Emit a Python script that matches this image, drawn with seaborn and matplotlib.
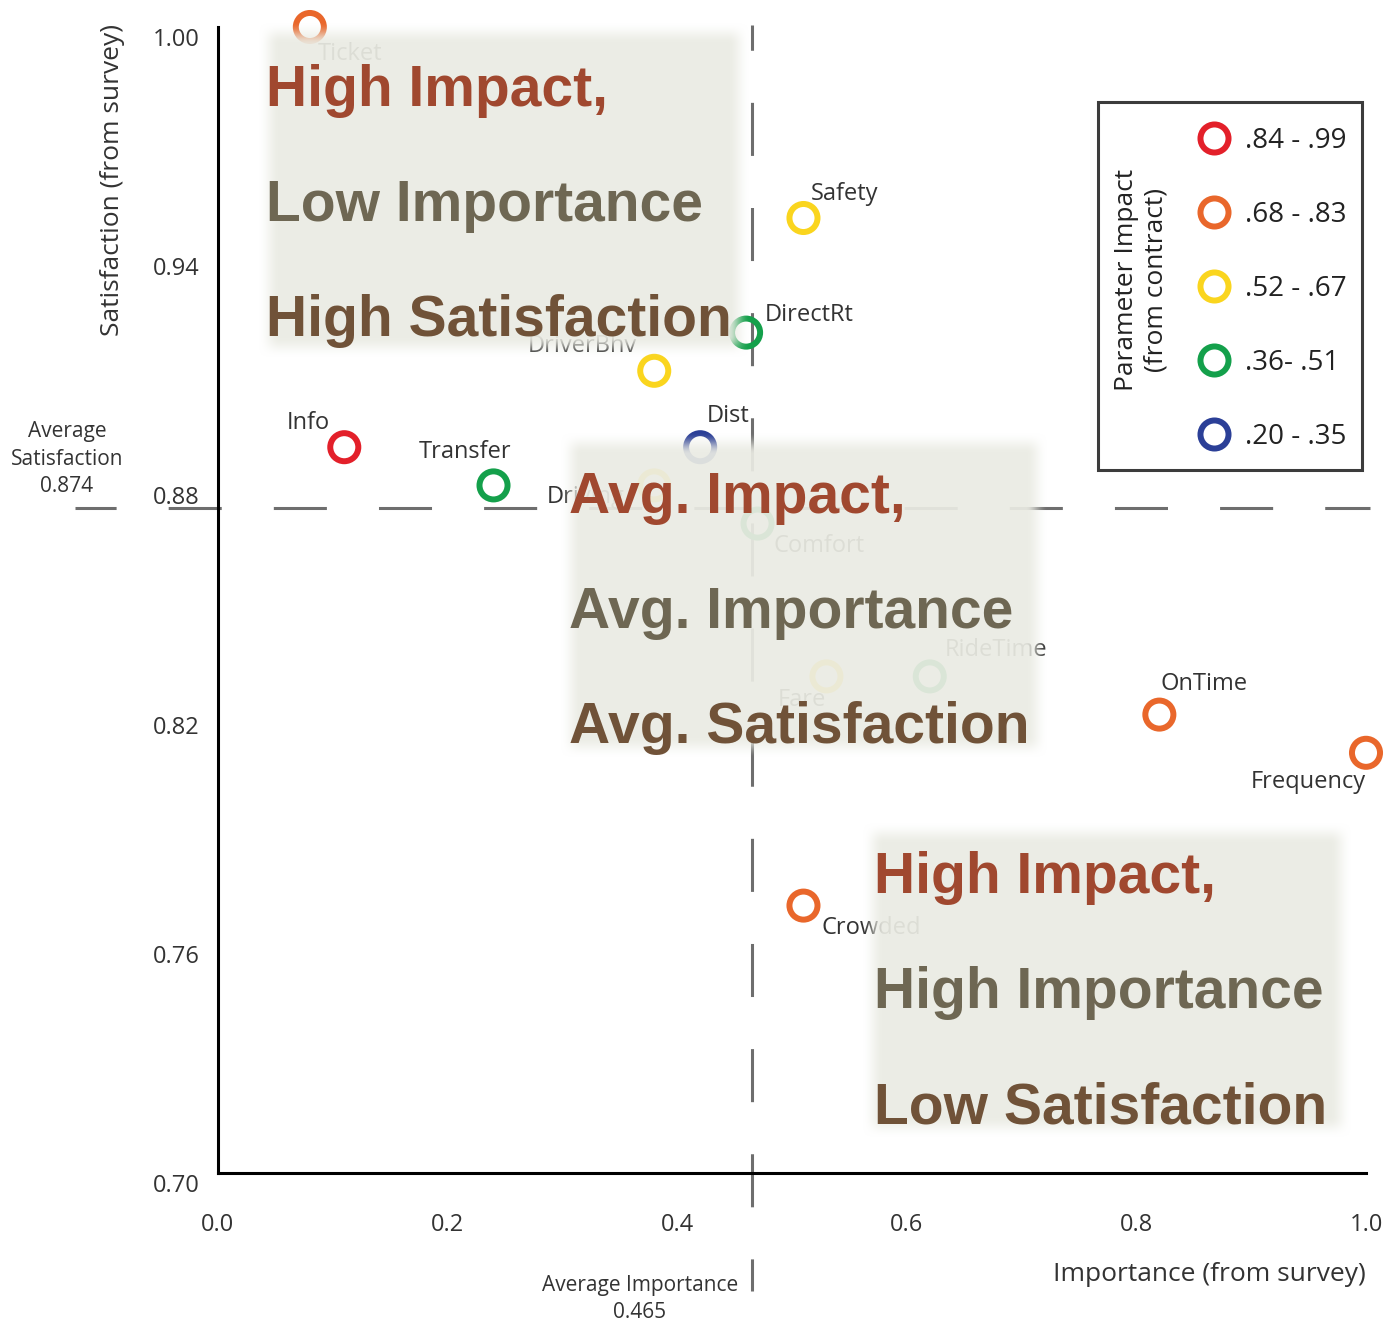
import numpy as np
import pandas as pd
import matplotlib
matplotlib.use("Agg")
import matplotlib.pyplot as plt
from matplotlib.lines import Line2D
from matplotlib.patches import Rectangle
from matplotlib.colors import to_rgb
from matplotlib.transforms import ScaledTranslation
import seaborn as sns

# Service parameters: survey importance vs. survey satisfaction, coloured by contract impact band
parameters = ["Ticket", "Safety", "DirectRt", "DriverBhv", "Info", "Dist", "Transfer",
              "Driving", "Comfort", "Fare", "RideTime", "OnTime", "Frequency", "Crowded"]
importance = [0.08, 0.51, 0.46, 0.38, 0.11, 0.42, 0.24,
              0.38, 0.47, 0.53, 0.62, 0.82, 1.00, 0.51]
satisfaction = [1.00, 0.95, 0.92, 0.91, 0.89, 0.89, 0.88,
                0.88, 0.87, 0.83, 0.83, 0.82, 0.81, 0.77]
impact_band = [".68 - .83", ".52 - .67", ".36- .51", ".52 - .67", ".84 - .99", ".20 - .35", ".36- .51",
               ".52 - .67", ".36- .51", ".52 - .67", ".36- .51", ".68 - .83", ".68 - .83", ".68 - .83"]

impact_bands = [".84 - .99", ".68 - .83", ".52 - .67", ".36- .51", ".20 - .35"]
band_colors = ["#E3202A", "#E9672B", "#FAD51E", "#14A04B", "#2B3F97"]

avg_importance = 0.465
avg_satisfaction = 0.874

x_ticks = [0.0, 0.2, 0.4, 0.6, 0.8, 1.0]
x_tick_labels = ["0.0", "0.2", "0.4", "0.6", "0.8", "1.0"]
y_ticks = [0.70, 0.76, 0.82, 0.88, 0.94, 1.00]
y_tick_labels = ["0.70", "0.76", "0.82", "0.88", "0.94", "1.00"]

quadrant_notes = [
    ("High Impact,", "Low Importance", "High Satisfaction"),
    ("Avg. Impact,", "Avg. Importance", "Avg. Satisfaction"),
    ("High Impact,", "High Importance", "Low Satisfaction"),
]

# label placement around each ring: pixel offset and horizontal alignment
label_place = {
    "Ticket": (8, -27, "left"), "Safety": (7, 24, "left"), "DirectRt": (19, 18, "left"),
    "DriverBhv": (-17, 25, "right"), "Info": (-14, 24, "right"), "Dist": (7, 31, "left"),
    "Transfer": (-28, 33, "center"), "Driving": (-30, -12, "right"), "Comfort": (16, -22, "left"),
    "Fare": (0, -24, "right"), "RideTime": (15, 26, "left"), "OnTime": (1, 31, "left"),
    "Frequency": (0, -29, "right"), "Crowded": (18, -22, "left"),
}

df = pd.DataFrame({"parameter": parameters, "importance": importance,
                   "satisfaction": satisfaction, "impact": impact_band})

sns.set_theme(style="white")
plt.rcParams["font.family"] = ["Open Sans", "DejaVu Sans"]
plt.rcParams["lines.scale_dashes"] = False

W, H = 1388, 1325
fig = plt.figure(figsize=(W / 100, H / 100), dpi=100, facecolor="white")
ax = fig.add_axes([218 / W, 1 - 1173 / H, 1148 / W, 1146 / H])
ax.set_facecolor("white")

TEXT = "#333333"

# average reference lines
ax.plot([-0.1246, 1.0035], [avg_satisfaction, avg_satisfaction], color="#6E6E6E", lw=2.2,
        linestyle=(8.6, (38.2, 37.5)), clip_on=False, zorder=1)
ax.plot([avg_importance, avg_importance], [1.0005, 0.669], color="#6E6E6E", lw=2.2,
        linestyle=(20.0, (38.2, 37.5)), clip_on=False, zorder=1)

# hollow rings per parameter
sns.scatterplot(data=df, x="importance", y="satisfaction", hue="impact", hue_order=impact_bands,
                palette=dict(zip(impact_bands, band_colors)), s=408, linewidth=4.3,
                legend=False, ax=ax, zorder=3, clip_on=False)
rings = ax.collections[-1]
ring_colors = rings.get_facecolors()
rings.set_edgecolors(ring_colors)
rings.set_facecolors("none")

for name, xv, yv in zip(parameters, importance, satisfaction):
    dx, dy, ha = label_place[name]
    ax.annotate(name, (xv, yv), xytext=(dx, dy), textcoords="offset pixels", ha=ha, va="center",
                fontsize=17, color=TEXT, zorder=3, annotation_clip=False)

ax.set_xlim(0, 1)
ax.set_ylim(0.70, 1.00)
ax.set_xticks(x_ticks, x_tick_labels)
ax.set_yticks(y_ticks, y_tick_labels)
ax.tick_params(direction="in", length=19.5, width=2.2, color="black", labelsize=17, labelcolor=TEXT)
ax.tick_params(axis="x", pad=29)
ax.tick_params(axis="y", pad=13)
# y tick labels sit a little below their ticks
shift_down = ScaledTranslation(0, -0.10, fig.dpi_scale_trans)
for lbl in ax.get_yticklabels():
    lbl.set_transform(lbl.get_transform() + shift_down)
sns.despine(ax=ax)
for side in ("left", "bottom"):
    ax.spines[side].set_linewidth(2.2)
    ax.spines[side].set_color("black")

ax.set_xlabel("Importance (from survey)", fontsize=19, color=TEXT, loc="right")
ax.xaxis.set_label_coords(1.0, -0.0777)
ax.set_ylabel("Satisfaction (from survey)", fontsize=19, color=TEXT)
ax.yaxis.set_label_coords(-0.081, 0.8665)

# legend: framed box with rotated title
ax.add_patch(Rectangle((0.7666, 0.6134), 0.2299, 0.3212, transform=ax.transAxes, facecolor="white",
                       edgecolor="#3C3C3C", lw=2.2, zorder=4, clip_on=False))
handles = [Line2D([], [], marker="o", linestyle="none", markersize=20.2, markerfacecolor="none",
                  markeredgecolor=c, markeredgewidth=4.3) for c in band_colors]
leg = ax.legend(handles, impact_bands, loc="center left", bbox_to_anchor=(0.8531, 0.7714),
                bbox_transform=ax.transAxes, frameon=False, borderpad=0, borderaxespad=0,
                handlelength=1.2, handletextpad=0.52, labelspacing=1.66, prop={"size": 20},
                labelcolor="#222222")
leg.set_zorder(5)


def fig_xy(px, py):
    return px / W, 1 - py / H


fig.text(*fig_xy(1141, 280), "Parameter Impact\n(from contract)", rotation=90, ha="center",
         va="center", multialignment="center", fontsize=19, color="#222222", linespacing=1.25)

fig.text(*fig_xy(67, 459), f"Average\nSatisfaction\n{avg_satisfaction:.3f}", ha="center", va="center",
         multialignment="center", fontsize=15, color=TEXT, linespacing=1.38)
fig.text(*fig_xy(640, 1299), f"Average Importance\n{avg_importance:.3f}", ha="center", va="center",
         multialignment="center", fontsize=15, color=TEXT, linespacing=1.38)


# soft-edged translucent panels carrying the quadrant notes
def soft_panel(x0, y0, x1, y1, feather=22, alpha=0.93, color="#EAEBE3"):
    w, h = x1 - x0, y1 - y0
    xs = np.arange(w) + 0.5
    ys = np.arange(h) + 0.5
    fx = np.clip(np.minimum(xs, w - xs) / feather, 0, 1)
    fy = np.clip(np.minimum(ys, h - ys) / feather, 0, 1)
    fx = fx * fx * (3 - 2 * fx)
    fy = fy * fy * (3 - 2 * fy)
    img = np.zeros((h, w, 4))
    img[..., :3] = to_rgb(color)
    img[..., 3] = alpha * np.outer(fy, fx)
    fig.figimage(img, xo=x0, yo=H - y1, origin="upper", zorder=3)


panels = [(258, 22, 750, 358), (560, 432, 1048, 758), (862, 822, 1352, 1138)]
text_left = [266, 569, 874]
first_baseline = [106, 513, 893]
note_colors = ["#A0482F", "#6E6753", "#705238"]

for (x0, y0, x1, y1), lines, tx, by in zip(panels, quadrant_notes, text_left, first_baseline):
    soft_panel(x0, y0, x1, y1)
    for i, (line, col) in enumerate(zip(lines, note_colors)):
        fig.text(*fig_xy(tx, by + 115 * i), line, ha="left", va="baseline", fontsize=41,
                 fontweight="bold", family=["Liberation Sans", "DejaVu Sans"], color=col, zorder=5)

fig.savefig("out.png", dpi=100, facecolor="white")
